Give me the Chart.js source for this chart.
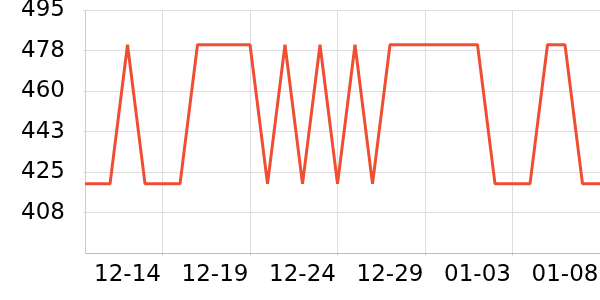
<!DOCTYPE html>
<html>
<head>
<meta charset="utf-8">
<script src="https://cdn.jsdelivr.net/npm/chart.js@4"></script>
<style>
  html, body { margin: 0; padding: 0; background: #fff; }
  #wrap { width: 600px; height: 300px; }
</style>
</head>
<body>
<div id="wrap"><canvas id="chart"></canvas></div>
<script>
const dates = [
  "12-11", "12-12", "12-13", "12-14", "12-15", "12-16", "12-17", "12-18",
  "12-19", "12-20", "12-21", "12-22", "12-23", "12-24", "12-25", "12-26",
  "12-27", "12-28", "12-29", "12-30", "12-31", "01-01", "01-02", "01-03",
  "01-04", "01-05", "01-06", "01-07", "01-08", "01-09", "01-10"
];
const values = [
  420, 420, 420, 480, 420, 420, 420, 480,
  480, 480, 480, 420, 480, 420, 480, 420,
  480, 420, 480, 480, 480, 480, 480, 480,
  420, 420, 420, 480, 480, 420, 420
];
const labelTicks = ["12-14", "12-19", "12-24", "12-29", "01-03", "01-08"];
const gridTicks = ["12-16", "12-21", "12-26", "12-31", "01-05", "01-10"];
const yTicks = [407.5, 425, 442.5, 460, 477.5, 495];

const labelIdx = labelTicks.map((d) => dates.indexOf(d));
const gridIdx = gridTicks.map((d) => dates.indexOf(d));
const points = values.map((v, i) => ({ x: i, y: v }));

const font = { family: "DejaVu Sans", size: 23 };
const isLabel = (ctx) => ctx.tick && labelIdx.includes(ctx.tick.value);

new Chart(document.getElementById("chart"), {
  type: "line",
  data: {
    datasets: [
      {
        data: points,
        borderColor: "rgb(240, 78, 50)",
        borderWidth: 3,
        borderJoinStyle: "bevel",
        pointRadius: 0,
        tension: 0,
        fill: false,
        clip: 0,
      },
    ],
  },
  options: {
    responsive: true,
    maintainAspectRatio: false,
    animation: false,
    layout: { padding: { left: 0, top: 10, right: 0, bottom: 5 } },
    plugins: {
      legend: { display: false },
      tooltip: { enabled: false },
    },
    scales: {
      x: {
        type: "linear",
        min: 0.57,
        max: 30,
        afterBuildTicks: (axis) => {
          axis.ticks = labelIdx.concat(gridIdx).sort((a, b) => a - b).map((v) => ({ value: v }));
        },
        afterFit: (axis) => {
          axis.paddingLeft = 0;
          axis.paddingRight = 0;
        },
        grid: {
          color: (ctx) => (isLabel(ctx) ? "rgba(0,0,0,0)" : "#dddddd"),
          tickColor: (ctx) => (isLabel(ctx) ? "rgba(0,0,0,0)" : "#cccccc"),
          tickLength: 2,
        },
        border: { color: "#bbbbbb" },
        ticks: {
          autoSkip: false,
          maxRotation: 0,
          padding: 6,
          color: "#000",
          font: font,
          callback: (v) => (labelIdx.includes(v) ? dates[v] : ""),
        },
      },
      y: {
        min: 390,
        max: 495,
        afterBuildTicks: (axis) => {
          axis.ticks = yTicks.map((v) => ({ value: v }));
        },
        afterFit: (axis) => {
          axis.paddingTop = 0;
          axis.paddingBottom = 0;
          axis.width = 85;
        },
        grid: { color: "#dddddd", tickLength: 2 },
        border: { color: "#cccccc" },
        ticks: {
          padding: 18,
          color: "#000",
          font: font,
          callback: (v) => Math.round(v),
        },
      },
    },
  },
});
</script>
</body>
</html>
